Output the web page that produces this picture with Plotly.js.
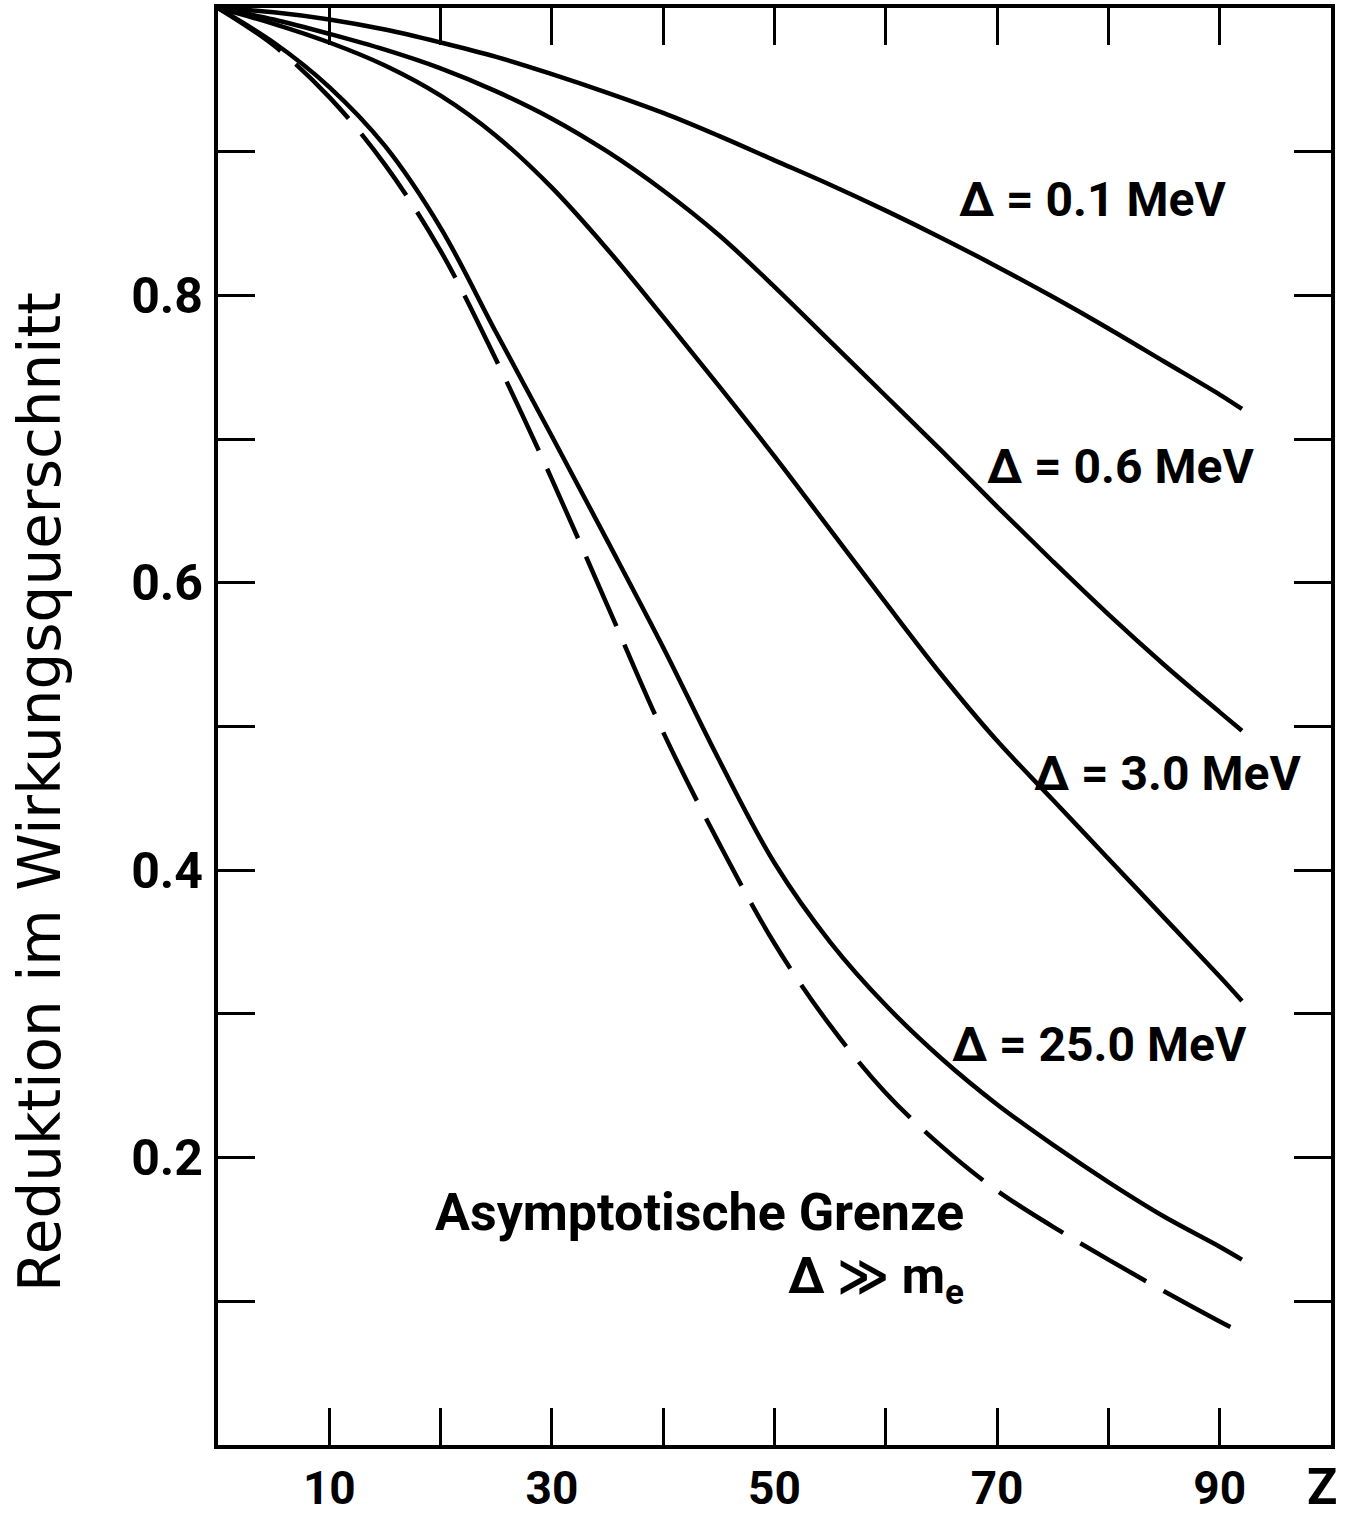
<!DOCTYPE html>
<html>
<head>
<meta charset="utf-8">
<script src="https://cdn.plot.ly/plotly-3.0.1.min.js"></script>
<style>
  html, body { margin: 0; padding: 0; background: #ffffff; }
  #chart { width: 1353px; height: 1518px; }
</style>
</head>
<body>
<div id="chart"></div>
<script>
// Atomic number Z (x values)
const zValues = [0, 5, 10, 15, 20, 25, 30, 35, 40, 45, 50, 55, 60, 65, 70, 75, 80, 85, 90, 92];

// Reduction in cross-section for each Delta
const delta01 = [1.000, 0.997, 0.992, 0.985, 0.976, 0.966, 0.954, 0.941, 0.927, 0.911, 0.894, 0.877, 0.859, 0.840, 0.820, 0.799, 0.777, 0.754, 0.731, 0.721];
const delta06 = [1.000, 0.992, 0.982, 0.971, 0.958, 0.942, 0.923, 0.900, 0.873, 0.842, 0.806, 0.768, 0.730, 0.692, 0.653, 0.615, 0.578, 0.543, 0.510, 0.497];
const delta30 = [1.000, 0.989, 0.976, 0.960, 0.939, 0.911, 0.875, 0.832, 0.785, 0.737, 0.688, 0.637, 0.586, 0.536, 0.490, 0.449, 0.408, 0.367, 0.326, 0.309];
const delta250 = [1.000, 0.976, 0.945, 0.904, 0.847, 0.774, 0.702, 0.629, 0.555, 0.477, 0.405, 0.350, 0.306, 0.269, 0.237, 0.209, 0.183, 0.159, 0.138, 0.129];
const asymptotic = [1.000, 0.974, 0.938, 0.891, 0.831, 0.755, 0.672, 0.584, 0.496, 0.419, 0.349, 0.292, 0.245, 0.208, 0.177, 0.152, 0.129, 0.107, 0.086, 0.078];

// Tick definitions
const xTickVals = [10, 30, 50, 70, 90];
const xTickText = ['10', '30', '50', '70', '90'];
const yTickVals = [0.2, 0.4, 0.6, 0.8];
const yTickText = ['0.2', '0.4', '0.6', '0.8'];

const solid = {color: '#000000', width: 4.5, shape: 'spline', smoothing: 1};

const traces = [
  {x: zValues, y: delta01, mode: 'lines', line: solid, name: 'Δ = 0.1 MeV'},
  {x: zValues, y: delta06, mode: 'lines', line: solid, name: 'Δ = 0.6 MeV'},
  {x: zValues, y: delta30, mode: 'lines', line: solid, name: 'Δ = 3.0 MeV'},
  {x: zValues, y: delta250, mode: 'lines', line: solid, name: 'Δ = 25.0 MeV'},
  {x: zValues, y: asymptotic, mode: 'lines',
   line: {color: '#000000', width: 4.5, shape: 'spline', smoothing: 1, dash: '76px,20px'},
   name: 'Asymptotische Grenze'}
];

const labelFont = {family: 'Roboto, Noto Sans, sans-serif', size: 48, color: '#000000', weight: 'bold'};

const axisCommon = {
  showgrid: false,
  zeroline: false,
  showline: true,
  linecolor: '#000000',
  linewidth: 4,
  mirror: 'ticks',
  ticks: 'inside',
  ticklen: 37,
  tickwidth: 3,
  tickcolor: '#000000',
  tickmode: 'array',
  fixedrange: true
};

const layout = {
  width: 1353,
  height: 1518,
  margin: {l: 218, r: 22, t: 8, b: 73},
  paper_bgcolor: '#ffffff',
  plot_bgcolor: '#ffffff',
  showlegend: false,
  xaxis: Object.assign({}, axisCommon, {
    range: [0, 100],
    tickvals: xTickVals,
    ticktext: xTickText,
    tickfont: {family: 'Roboto, sans-serif', size: 46, color: '#000000', weight: 'bold'},
    ticklabelstandoff: 0,
    minor: {ticks: 'inside', ticklen: 37, tickwidth: 3, tickcolor: '#000000', tick0: 0, dtick: 10, showgrid: false}
  }),
  yaxis: Object.assign({}, axisCommon, {
    range: [0, 1],
    tickvals: yTickVals,
    ticktext: yTickText,
    tickfont: {family: 'Roboto, sans-serif', size: 50, color: '#000000', weight: 'bold'},
    ticklabelstandoff: 1,
    minor: {ticks: 'inside', ticklen: 37, tickwidth: 3, tickcolor: '#000000', tick0: 0, dtick: 0.1, showgrid: false}
  }),
  annotations: [
    {x: -0.160, y: 0.4544, xref: 'paper', yref: 'paper', text: 'Reduktion im Wirkungsquerschnitt', showarrow: false,
     textangle: -90, font: {family: 'DejaVu Sans, sans-serif', size: 58, color: '#000000'}, xanchor: 'center', yanchor: 'middle'},
    {x: 78.6, y: 0.867, xref: 'x', yref: 'y', text: 'Δ = 0.1 MeV', showarrow: false, font: labelFont, xanchor: 'center', yanchor: 'middle'},
    {x: 81.1, y: 0.681, xref: 'x', yref: 'y', text: 'Δ = 0.6 MeV', showarrow: false, font: labelFont, xanchor: 'center', yanchor: 'middle'},
    {x: 85.3, y: 0.467, xref: 'x', yref: 'y', text: 'Δ = 3.0 MeV', showarrow: false, font: labelFont, xanchor: 'center', yanchor: 'middle'},
    {x: 79.2, y: 0.279, xref: 'x', yref: 'y', text: 'Δ = 25.0 MeV', showarrow: false, font: labelFont, xanchor: 'center', yanchor: 'middle'},
    {x: 43.3, y: 0.162, xref: 'x', yref: 'y', text: 'Asymptotische Grenze', showarrow: false,
     font: {family: 'Roboto, sans-serif', size: 52, color: '#000000', weight: 'bold'}, xanchor: 'center', yanchor: 'middle'},
    {x: 59.1, y: 0.115, xref: 'x', yref: 'y', text: 'Δ ≫ m<sub>e</sub>', showarrow: false,
     font: {family: 'Roboto, DejaVu Sans, sans-serif', size: 50, color: '#000000', weight: 'bold'}, xanchor: 'center', yanchor: 'middle'},
    {x: 0.992, y: -0.029, xref: 'paper', yref: 'paper', text: 'Z', showarrow: false,
     font: {family: 'Roboto, sans-serif', size: 50, color: '#000000', weight: 'bold'}, xanchor: 'center', yanchor: 'middle'}
  ]
};

Plotly.newPlot('chart', traces, layout, {staticPlot: true, displayModeBar: false});
</script>
</body>
</html>
